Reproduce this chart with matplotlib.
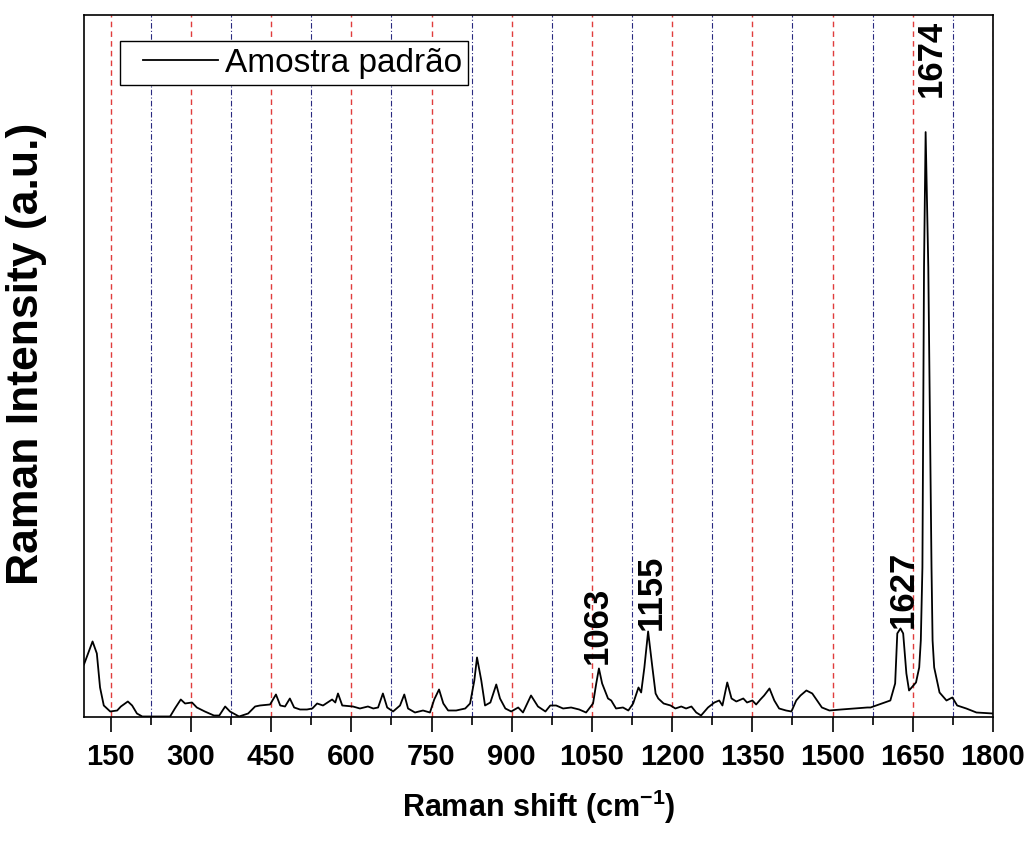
import matplotlib
matplotlib.use("Agg")
import matplotlib.pyplot as plt
from matplotlib.ticker import FixedLocator
from matplotlib.legend_handler import HandlerLine2D
from matplotlib.lines import Line2D

plt.rcParams['font.family'] = ['Liberation Sans', 'DejaVu Sans']
plt.rcParams['mathtext.fontset'] = 'custom'
plt.rcParams['mathtext.rm'] = 'Liberation Sans'
plt.rcParams['mathtext.bf'] = 'Liberation Sans:bold'

# Raman spectrum of the reference sample (shift in cm-1, intensity in a.u.)
shift = [
    100, 116, 124, 130, 137, 149, 162, 169, 182, 190, 199, 209, 261, 270, 281,
    289, 302, 311, 326, 343, 353, 364, 373, 390,
    407, 420, 429, 448, 459, 467, 476, 485, 493, 504, 517, 527, 536, 547, 564,
    570, 575, 583, 603, 616, 631, 641, 650, 659, 667, 678, 691,
    699, 706, 719, 734, 747, 755, 764, 772, 781, 796, 813, 822, 830, 835, 843,
    850, 860, 871, 878, 888, 899, 912, 921, 936, 949, 963, 972,
    983, 996, 1011, 1026, 1039, 1052, 1058, 1063, 1069, 1080, 1086, 1095, 1108,
    1118, 1127, 1137, 1142, 1148, 1155, 1163, 1169, 1174, 1184, 1197, 1206,
    1217, 1226, 1236, 1245, 1254, 1267, 1279,
    1288, 1294, 1303, 1311, 1320, 1333, 1340, 1350, 1357, 1365, 1372, 1382,
    1391, 1400, 1413, 1423, 1432, 1440, 1451, 1462, 1471, 1480, 1494, 1516,
    1541, 1565, 1571,
    1608, 1617, 1621, 1627, 1632, 1638, 1643, 1651, 1656, 1662, 1665, 1668,
    1671, 1674, 1679, 1685, 1687, 1690, 1700, 1713, 1724, 1733, 1750, 1769,
    1800,
]
intensity = [
    52, 75, 63, 29, 11, 5, 6, 10, 15, 11, 3, 0, 0, 8, 17,
    13, 14, 9, 5, 1, 1, 10, 5, 0,
    3, 10, 11, 12, 22, 11, 10, 18, 9, 7, 7, 8, 13, 11, 17,
    14, 23, 11, 10, 8, 10, 8, 9, 23, 9, 5, 11,
    22, 8, 4, 6, 4, 17, 27, 13, 6, 6, 8, 13, 36, 59, 36,
    11, 14, 32, 18, 8, 5, 9, 4, 21, 10, 5, 11,
    11, 8, 9, 7, 4, 13, 33, 48, 33, 18, 16, 8, 9,
    6, 13, 29, 24, 49, 85, 49, 23, 18, 13, 11, 8,
    10, 8, 10, 4, 1, 9, 14,
    16, 11, 34, 18, 15, 18, 14, 16, 12, 17, 21, 28,
    16, 8, 6, 5, 16, 21, 26, 23, 16, 9, 6, 7,
    8, 9, 9,
    16, 33, 83, 88, 83, 43, 26, 31, 34, 49, 76, 149,
    449, 584, 449, 149, 76, 49, 24, 16, 19, 11, 8, 4,
    3,
]

# Labelled bands: position, height and label offset (points)
peak_pos = [1063, 1155, 1627, 1674]
peak_height = [48, 85, 88, 584]
peak_offset = [(-1, 3), (2, 1), (2, 0), (4, 25)]

# Tick / guide-line positions on the shift axis
major_ticks = [150, 300, 450, 600, 750, 900, 1050, 1200, 1350, 1500, 1650, 1800]
minor_ticks = [225, 375, 525, 675, 825, 975, 1125, 1275, 1425, 1575, 1725]

fig = plt.figure(figsize=(10.31, 8.43), dpi=100)
ax = fig.add_axes([84 / 1031, 1 - 716.5 / 843, 909 / 1031, 701.5 / 843])

ax.plot(shift, intensity, color='black', lw=1.3, label='Amostra padrão', zorder=3)

for x, h, (dx, dy) in zip(peak_pos, peak_height, peak_offset):
    ax.annotate(str(x), xy=(x, h), xytext=(dx, dy), textcoords='offset points',
                rotation=90, ha='center', va='bottom',
                fontsize=25, fontweight='bold', zorder=4)

ax.set_xlim(100, 1800)
ax.set_ylim(0, 701)

ax.xaxis.set_major_locator(FixedLocator(major_ticks))
ax.xaxis.set_minor_locator(FixedLocator(minor_ticks))
ax.set_yticks([])

ax.grid(which='major', axis='x', color='#e03c3c', ls=(0, (4, 3)), lw=1.0, zorder=1)
ax.grid(which='minor', axis='x', color='#2a2a80', ls=(0, (5, 2, 1, 2)), lw=0.8, zorder=1)

ax.tick_params(axis='x', which='major', direction='out', length=11, width=1.2,
               pad=8, labelsize=21)
ax.tick_params(axis='x', which='minor', direction='out', length=5.5, width=1.2)
for lab in ax.get_xticklabels():
    lab.set_fontweight('bold')

for sp in ax.spines.values():
    sp.set_linewidth(1.2)

ax.set_xlabel('Raman shift (cm$^{\\mathbf{-1}}$)', fontsize=22, fontweight='bold')
ax.xaxis.set_label_coords(0.5, -(788 - 716.5) / 701.5)
ax.set_ylabel('Raman Intensity (a.u.)', fontsize=32, fontweight='bold')
ax.yaxis.set_label_coords(-(84 - 47) / 909, (716.5 - 354) / 701.5)

leg = ax.legend(loc='upper left', bbox_to_anchor=(36 / 909, 1 - 26 / 701),
                borderaxespad=0, fontsize=24, frameon=True, fancybox=False,
                edgecolor='black', framealpha=1, handlelength=2.74,
                handletextpad=0.2, borderpad=0.2,
                handler_map={Line2D: HandlerLine2D(xpad=0.5)})
leg.get_frame().set_linewidth(1.0)

fig.savefig('out.png', dpi=100)
